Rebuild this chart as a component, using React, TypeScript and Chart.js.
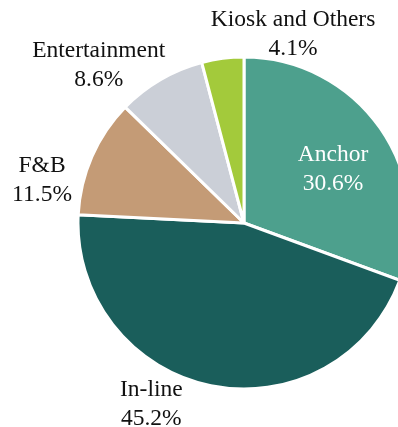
import React, { useEffect, useRef } from "react";
import { Chart, registerables } from "chart.js";

Chart.register(...registerables);

const categories = ["Anchor", "In-line", "F&B", "Entertainment", "Kiosk and Others"];
const shares = [30.6, 45.2, 11.5, 8.6, 4.1];
const valueLabels = ["30.6%", "45.2%", "11.5%", "8.6%", "4.1%"];
const sliceColors = ["#4DA08D", "#1A5E5B", "#C49B76", "#CBCFD7", "#A3CA3B"];
const labelColors = ["#FFFFFF", "#111111", "#111111", "#111111", "#111111"];
// label placement: [angle shift from slice middle (deg), distance as fraction of radius]
const labelPlacement: [number, number][] = [
  [3.4, 0.635],
  [15.7, 1.232],
  [-11.4, 1.256],
  [-12.1, 1.311],
  [21.9, 1.19],
];

const FONT = '23.5px "Liberation Serif", "Times New Roman", serif';
const LINE_GAP = 29;

const labelPlugin = {
  id: "sliceLabels",
  afterDatasetsDraw(chart: any) {
    const ctx = chart.ctx;
    const meta = chart.getDatasetMeta(0);
    ctx.save();
    ctx.font = FONT;
    ctx.textAlign = "center";
    ctx.textBaseline = "alphabetic";
    meta.data.forEach((arc: any, i: number) => {
      const { x, y, startAngle, endAngle, outerRadius } = arc.getProps(
        ["x", "y", "startAngle", "endAngle", "outerRadius"],
        true
      );
      const [shift, frac] = labelPlacement[i];
      const a = (startAngle + endAngle) / 2 + (shift * Math.PI) / 180;
      const r = (outerRadius - 1.5) * frac;
      const cx = x + Math.cos(a) * r;
      const cy = y + Math.sin(a) * r;
      ctx.fillStyle = labelColors[i];
      ctx.fillText(categories[i], cx, cy - LINE_GAP / 2 + 7.5);
      ctx.fillText(valueLabels[i], cx, cy + LINE_GAP / 2 + 7.5);
    });
    ctx.restore();
  },
};

export default function App() {
  const canvasRef = useRef<HTMLCanvasElement | null>(null);

  useEffect(() => {
    if (!canvasRef.current) return;
    const chart = new Chart(canvasRef.current, {
      type: "pie",
      data: {
        labels: categories,
        datasets: [
          {
            data: shares,
            backgroundColor: sliceColors,
            borderColor: "#FFFFFF",
            borderWidth: 3,
            clip: false as any,
          },
        ],
      },
      options: {
        animation: false,
        responsive: false,
        maintainAspectRatio: false,
        radius: 166,
        layout: { padding: { left: 90, right: 0, top: 19, bottom: 0 } },
        plugins: {
          legend: { display: false },
          tooltip: { enabled: false },
          title: { display: false },
        },
      } as any,
      plugins: [labelPlugin],
    });
    return () => chart.destroy();
  }, []);

  return (
    <div
      style={{
        position: "fixed",
        left: 0,
        top: 0,
        width: 398,
        height: 427,
        overflow: "hidden",
        background: "#FFFFFF",
      }}
    >
      <canvas ref={canvasRef} width={398} height={427} style={{ display: "block" }} />
    </div>
  );
}
